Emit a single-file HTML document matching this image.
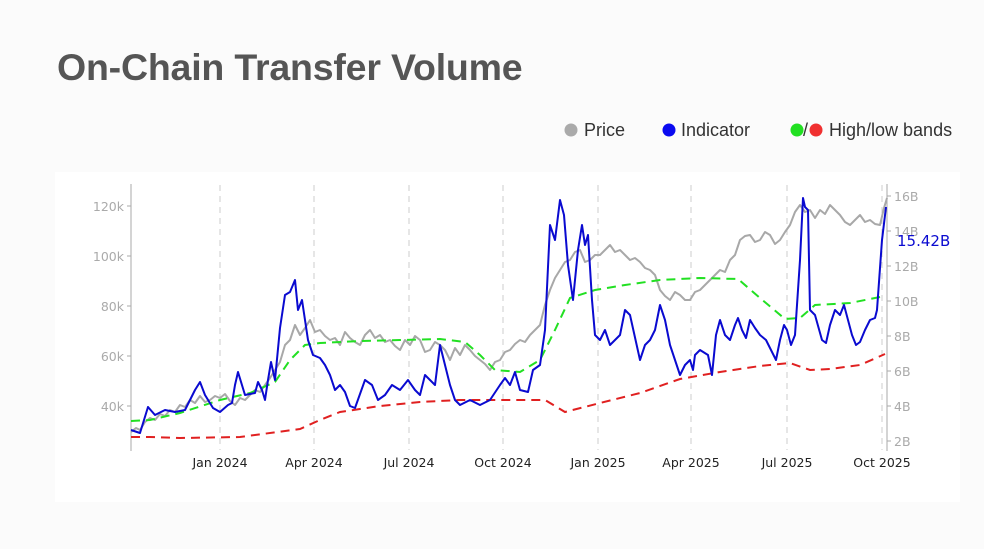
<!DOCTYPE html>
<html><head><meta charset="utf-8"><style>
html,body{margin:0;padding:0;background:#fbfbfb;}
body{width:984px;height:549px;overflow:hidden;position:relative;font-family:"Liberation Sans",sans-serif;}
.t{position:absolute;left:57px;top:46px;font-size:37.5px;font-weight:bold;color:#555;letter-spacing:-0.2px;}
</style></head><body>
<div class="t">On-Chain Transfer Volume</div>
<svg width="984" height="549" style="position:absolute;left:0;top:0">
<rect x="55" y="172" width="905" height="330" fill="#fff"/>
<g font-family="Liberation Sans,sans-serif" font-size="18" fill="#333">
<circle cx="571" cy="130" r="6.5" fill="#aaa"/><text x="584" y="136">Price</text>
<circle cx="669" cy="130" r="6.5" fill="#0a0af0"/><text x="681" y="136">Indicator</text>
<circle cx="797" cy="130" r="6.5" fill="#22e022"/><text x="803" y="136">/</text><circle cx="816" cy="130" r="6.5" fill="#f03030"/><text x="829" y="136">High/low bands</text>
</g>
<g stroke="#ccc" stroke-dasharray="6,5" stroke-width="1">
<line x1="220" y1="185" x2="220" y2="450"/><line x1="314" y1="185" x2="314" y2="450"/><line x1="409" y1="185" x2="409" y2="450"/><line x1="503" y1="185" x2="503" y2="450"/><line x1="598" y1="185" x2="598" y2="450"/><line x1="691" y1="185" x2="691" y2="450"/><line x1="787" y1="185" x2="787" y2="450"/><line x1="882" y1="185" x2="882" y2="450"/>
</g>
<g stroke="#aaa" stroke-width="1"><line x1="131" y1="184" x2="131" y2="451"/><line x1="887" y1="184" x2="887" y2="451"/>
<line x1="127" y1="206" x2="131" y2="206"/><line x1="127" y1="256" x2="131" y2="256"/><line x1="127" y1="306" x2="131" y2="306"/><line x1="127" y1="356" x2="131" y2="356"/><line x1="127" y1="406" x2="131" y2="406"/>
<line x1="887" y1="196" x2="891" y2="196"/><line x1="887" y1="231" x2="891" y2="231"/><line x1="887" y1="266" x2="891" y2="266"/><line x1="887" y1="301" x2="891" y2="301"/><line x1="887" y1="336" x2="891" y2="336"/><line x1="887" y1="371" x2="891" y2="371"/><line x1="887" y1="406" x2="891" y2="406"/><line x1="887" y1="441" x2="891" y2="441"/>
</g>
<g font-family="DejaVu Sans,sans-serif" font-size="12.5" fill="#aaa">
<text x="124" y="211" text-anchor="end">120k</text><text x="124" y="261" text-anchor="end">100k</text><text x="124" y="311" text-anchor="end">80k</text><text x="124" y="361" text-anchor="end">60k</text><text x="124" y="411" text-anchor="end">40k</text>
<text x="894" y="201">16B</text><text x="894" y="236">14B</text><text x="894" y="271">12B</text><text x="894" y="306">10B</text><text x="894" y="341">8B</text><text x="894" y="376">6B</text><text x="894" y="411">4B</text><text x="894" y="446">2B</text>
</g>
<g font-family="DejaVu Sans,sans-serif" font-size="12.5" fill="#222" text-anchor="middle">
<text x="220" y="467">Jan 2024</text><text x="314" y="467">Apr 2024</text><text x="409" y="467">Jul 2024</text><text x="503" y="467">Oct 2024</text><text x="598" y="467">Jan 2025</text><text x="691" y="467">Apr 2025</text><text x="787" y="467">Jul 2025</text><text x="882" y="467">Oct 2025</text>
</g>
<polyline fill="none" stroke="#a8a8a8" stroke-width="2" stroke-linejoin="round" points="131,432 136,428 140,430 145,422 150,418 155,420 160,414 165,416 170,410 175,412 180,405 185,407 190,400 195,403 200,396 205,402 210,400 215,396 220,398 225,394 230,401 235,405 240,398 245,400 250,395 255,390 260,392 265,385 270,378 275,370 280,362 285,345 290,340 295,325 300,335 305,328 310,320 315,332 320,330 325,336 330,340 335,338 340,345 345,332 350,338 355,342 360,345 365,335 370,330 375,338 380,335 385,342 390,340 395,346 400,350 405,340 410,345 415,336 420,340 425,352 430,350 435,342 440,345 445,350 450,360 455,348 460,355 465,345 470,350 475,356 480,360 485,364 490,370 495,362 500,360 505,352 510,350 515,344 520,340 525,342 530,335 535,330 540,325 545,305 550,290 555,278 560,270 565,262 570,260 575,252 580,250 585,262 590,260 595,255 600,255 605,250 610,245 615,252 620,250 625,255 630,260 635,258 640,262 645,268 650,270 655,275 660,290 665,296 670,300 675,292 680,295 685,300 690,300 695,292 700,290 705,285 710,280 715,275 720,270 725,272 730,260 735,255 740,240 745,236 750,235 755,242 760,240 765,232 770,235 775,244 780,240 785,232 790,225 795,212 800,205 805,212 810,210 815,218 820,210 825,214 830,205 835,210 840,215 845,222 850,225 855,220 860,215 865,222 870,220 875,224 880,225 884,208 887,198"/>
<polyline fill="none" stroke="#22e022" stroke-width="2" stroke-dasharray="9,6" points="131,421 150,420 180,413 220,400 250,393 275,382 290,360 305,345 320,343 360,341 400,340 440,339 465,342 480,355 495,370 520,372 540,360 555,330 570,298 595,290 625,285 660,280 700,278 738,279 760,298 785,319 800,318 815,305 850,303 880,297"/>
<polyline fill="none" stroke="#e02020" stroke-width="2" stroke-dasharray="9,6" points="131,437 150,437 180,438 240,437 300,429 320,420 340,412 380,406 420,402 460,400 500,400 545,400 565,412 600,403 640,393 680,379 720,372 760,366 790,363 810,370 830,369 860,365 885,354"/>
<polyline fill="none" stroke="#0a0ad0" stroke-width="2" stroke-linejoin="round" points="131,430 140,433 148,407 155,415 165,410 175,412 185,410 195,390 200,382 205,395 213,408 220,412 228,405 232,403 235,385 238,372 245,395 255,393 258,382 262,390 265,400 268,380 271,362 275,380 280,328 285,295 290,292 295,280 298,310 302,300 305,320 308,340 313,355 320,358 325,365 330,375 335,390 340,385 345,392 350,406 355,408 365,380 372,385 378,400 385,395 392,385 400,390 408,380 415,390 420,395 425,375 430,380 435,385 440,345 445,365 450,385 455,400 460,405 470,400 480,405 490,400 500,385 505,378 510,385 515,372 520,390 528,392 533,370 540,365 545,330 550,225 555,240 560,200 564,215 568,265 573,300 578,250 582,225 585,245 588,235 592,300 595,335 600,340 605,330 610,345 620,335 625,310 630,315 640,360 645,345 650,340 655,330 660,305 665,320 670,345 675,360 680,375 685,365 690,360 693,370 695,355 700,350 708,355 712,375 716,335 720,320 725,335 730,340 735,325 738,318 742,330 746,338 750,320 755,328 760,335 766,340 772,352 776,360 780,340 784,325 787,330 791,345 795,335 800,260 803,198 805,207 808,210 810,310 815,315 822,340 826,343 830,325 835,310 840,315 844,305 848,320 852,335 856,345 860,342 865,330 870,320 875,318 877,310 882,240 886,207"/>
<text x="897" y="246" font-family="DejaVu Sans,sans-serif" font-size="15" fill="#0a0ad0">15.42B</text>
</svg>
</body></html>
